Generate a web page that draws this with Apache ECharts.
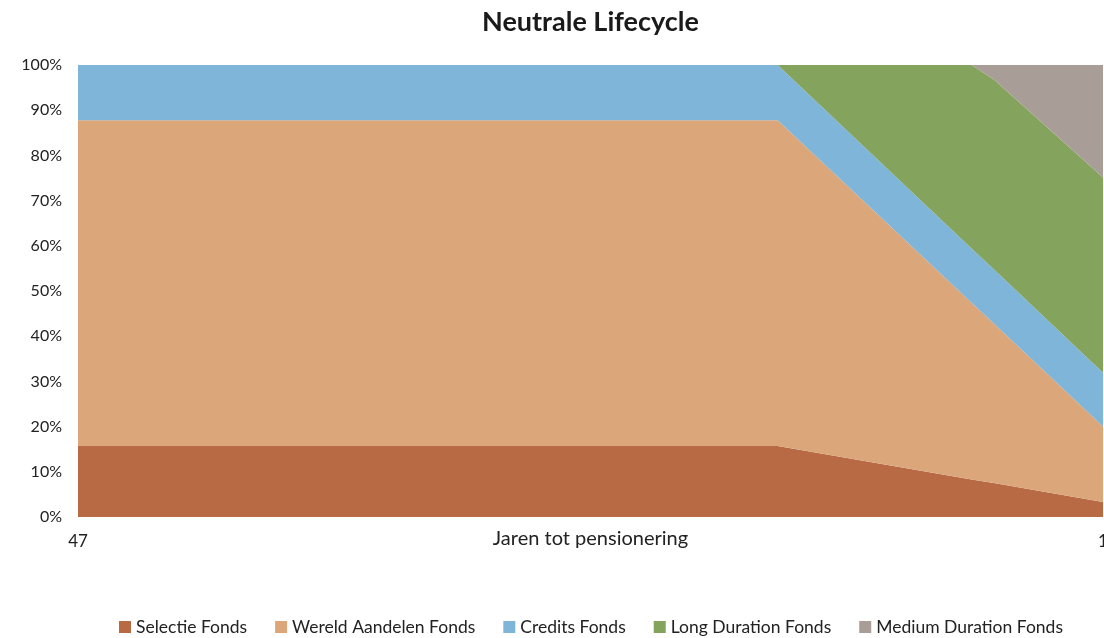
<!DOCTYPE html>
<html>
<head>
<meta charset="utf-8">
<script src="https://cdn.jsdelivr.net/npm/echarts@6/dist/echarts.min.js"></script>
<style>
  html, body { margin: 0; padding: 0; background: #fff; }
  #container { width: 1104px; height: 638px; }
</style>
</head>
<body>
<div id="container"></div>
<script>
// jaren tot pensionering (x positions of the glide path points)
var years = [47, 15.6, 6.9, 5.9, 1];
var xTicks = [47, 1];
var yTicks = [0, 10, 20, 30, 40, 50, 60, 70, 80, 90, 100];

var fundNames = ['Selectie Fonds', 'Wereld Aandelen Fonds', 'Credits Fonds', 'Long Duration Fonds', 'Medium Duration Fonds'];
var selectie = [15.7, 15.7, 8.3, 7.5, 3.3];
var wereld   = [72.1, 72.1, 39.1, 35.3, 16.7];
var credits  = [12.2, 12.2, 12.0, 12.0, 11.9];
var longDur  = [0, 0, 40.6, 42.0, 43.2];
var mediumDur = [0, 0, 0, 3.2, 24.9];

var colors = ['#b86a45', '#dba679', '#7fb5d8', '#84a35d', '#a89e97'];
var font = 'Lato, "Open Sans", sans-serif';

function makeSeries(name, values, color){
	// [value, year] so the stacked dimension is the y one
	var pts = [];
	for(var i=0; i<years.length; i++){
		pts.push([values[i], years[i]]);
	}
	return {
		name: name,
		type: 'line',
		stack: 'total',
		encode: {x: 1, y: 0},
		data: pts,
		symbol: 'none',
		silent: true,
		lineStyle: {width: 0},
		areaStyle: {color: color, opacity: 1},
		itemStyle: {color: color}
	};
}

var option = {
	animation: false,
	title: {
		text: 'Neutrale Lifecycle',
		left: 477,
		top: 4,
		textStyle: {fontFamily: font, fontSize: 27, fontWeight: 'bold', color: '#1a1a1a'}
	},
	legend: {
		data: fundNames,
		left: 114,
		top: 613,
		icon: 'rect',
		itemWidth: 12,
		itemHeight: 12,
		itemGap: 28,
		textStyle: {fontFamily: font, fontSize: 17.5, color: '#222'}
	},
	grid: {left: 78, right: 1, top: 65, bottom: 121, containLabel: false, outerBoundsMode: 'none'},
	xAxis: {
		type: 'value',
		inverse: true,
		min: xTicks[1],
		max: xTicks[0],
		interval: xTicks[0] - xTicks[1],
		name: 'Jaren tot pensionering',
		nameLocation: 'middle',
		nameGap: 12,
		nameMoveOverlap: false,
		nameTextStyle: {fontFamily: font, fontSize: 20, color: '#222'},
		axisLine: {show: false},
		axisTick: {show: false},
		splitLine: {show: false},
		axisLabel: {fontFamily: font, fontSize: 17, color: '#222', margin: 16, hideOverlap: false}
	},
	yAxis: {
		type: 'value',
		min: yTicks[0],
		max: yTicks[yTicks.length-1],
		interval: 10,
		axisLine: {show: false},
		axisTick: {show: false},
		splitLine: {show: false},
		axisLabel: {fontFamily: font, fontSize: 16, color: '#222', margin: 16, formatter: '{value}%'}
	},
	series: [
		makeSeries(fundNames[0], selectie, colors[0]),
		makeSeries(fundNames[1], wereld, colors[1]),
		makeSeries(fundNames[2], credits, colors[2]),
		makeSeries(fundNames[3], longDur, colors[3]),
		makeSeries(fundNames[4], mediumDur, colors[4])
	]
};

var myChart = echarts.init(document.getElementById('container'));
myChart.setOption(option);
</script>
</body>
</html>
